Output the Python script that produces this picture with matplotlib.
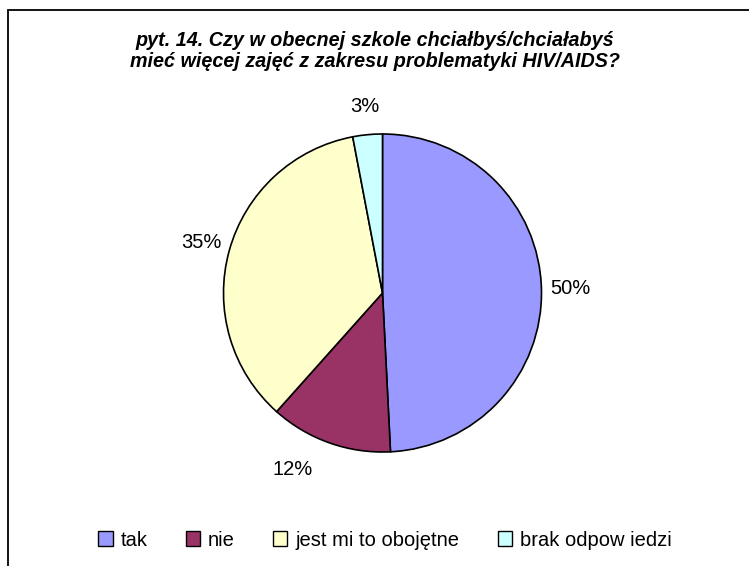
import matplotlib
matplotlib.use("Agg")
import matplotlib.pyplot as plt
from matplotlib.patches import Rectangle, Patch
import numpy as np

plt.rcParams['font.family'] = ['Liberation Sans', 'DejaVu Sans']

categories = ["tak", "nie", "jest mi to obojętne", "brak odpow iedzi"]
values = [49.2, 12.4, 35.4, 3.0]
pct_labels = ["50%", "12%", "35%", "3%"]
colors = ["#9999FF", "#993366", "#FFFFCC", "#CCFFFF"]
title = "pyt. 14. Czy w obecnej szkole chciałbyś/chciałabyś\nmieć więcej zajęć z zakresu problematyki HIV/AIDS?"

W, H = 749, 566
fig = plt.figure(figsize=(W / 100, H / 100), dpi=100)

# border (only top and left visible)
fig.patches.append(Rectangle((8 / W, -0.1), 1.2, (H - 10) / H + 0.1,
                             transform=fig.transFigure, fill=False,
                             edgecolor="black", linewidth=1.3))

cx, cy, r = 382.5, 293, 159
ax = fig.add_axes([(cx - r) / W, (H - cy - r) / H, 2 * r / W, 2 * r / H])
wedges, texts = ax.pie(values, colors=colors, startangle=90, counterclock=False,
                       labels=pct_labels, labeldistance=1.18,
                       wedgeprops=dict(edgecolor="black", linewidth=1.2),
                       textprops=dict(fontsize=14.5, ha="center", va="center"))
for t in texts:
    t.set_ha("center")
    t.set_va("center")
# nudge the "12%" label like the reference
x1, y1 = texts[1].get_position()
texts[1].set_position((x1 - 0.17, y1))
ax.set_xlim(-1, 1)
ax.set_ylim(-1, 1)
ax.set_aspect("equal")
ax.axis("off")

fig.text(375 / W, 1 - 51 / H, title, ha="center", va="center",
         fontsize=14.2, fontweight="bold", fontstyle="italic", linespacing=1.1)

handles = [Patch(facecolor=c, edgecolor="black", linewidth=1.0) for c in colors]
fig.legend(handles, categories, loc="center", bbox_to_anchor=(385 / W, 1 - 540 / H),
           ncol=4, frameon=False, fontsize=14.5, handlelength=0.7, handleheight=0.7,
           handletextpad=0.4, columnspacing=1.9)

fig.savefig("out.png", dpi=100)
